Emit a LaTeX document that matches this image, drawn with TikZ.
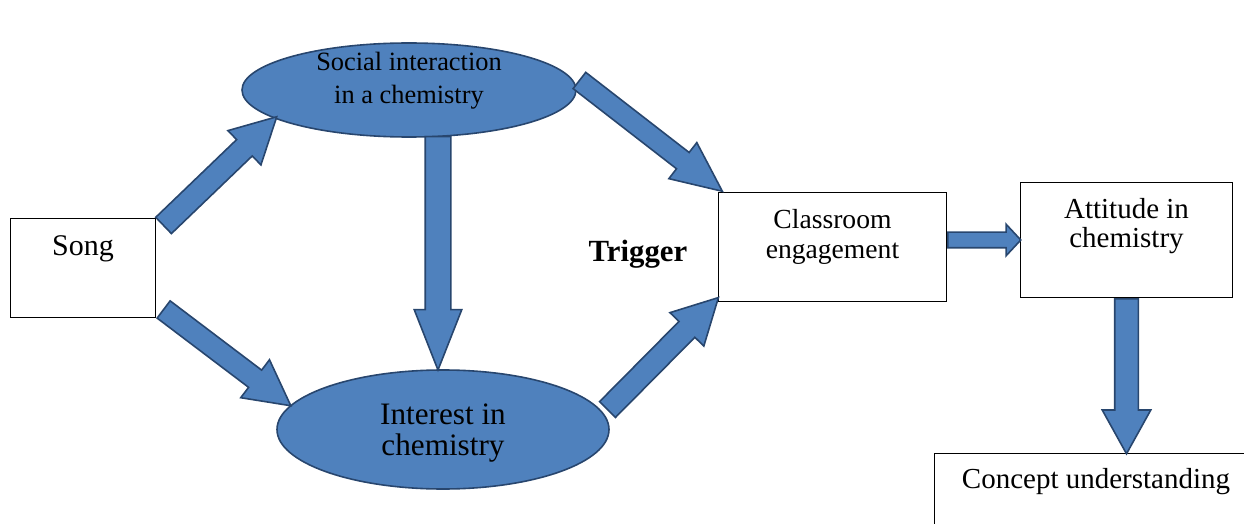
\documentclass[tikz,border=0pt]{standalone}
\usepackage{fontspec}
\setmainfont{Liberation Serif}
\usetikzlibrary{positioning,shapes.geometric,shapes.arrows,calc}

\definecolor{fillblue}{RGB}{79,129,189}
\definecolor{edgeblue}{RGB}{40,70,110}

\begin{document}
\begin{tikzpicture}[x=0.5pt,y=-0.5pt,
            box/.style={draw,rectangle,line width=.5pt,inner sep=0pt,anchor=north west,align=center},
            blob/.style={draw=edgeblue,fill=fillblue,ellipse,line width=.8pt,inner sep=0pt,align=center,text depth=0pt},
            bigarrow/.style={draw=edgeblue,fill=fillblue,line width=.8pt,single arrow,inner xsep=0pt,minimum width=0pt,anchor=tail},
            fat/.style n args={3}{to path={let \p1=(\tikztostart), \p2=(\tikztotarget), \p3=($(\p2)-(\p1)$) in
              node[bigarrow,inner ysep=#1,single arrow head extend=#2,single arrow tip angle=#3,
                   rotate={atan2(\y3,\x3)},minimum height={veclen(\x3,\y3)}] at (\p1) {}}}
          ]
          \useasboundingbox (0,0) rectangle (1244,524);
          \clip (0,0) rectangle (1244,524);

          %boxes
          \node[box,minimum width=72.5pt,text height=18.5pt,text depth=31pt,font=\fontsize{15}{18}\selectfont] (song) at (10,218) {Song};
          \node[box,minimum width=114pt,text height=33pt,text depth=21.5pt,font=\fontsize{13.8}{15.25}\selectfont] (classroom) at (718,192) {Classroom\\engagement};
          \node[box,minimum width=106pt,text height=32.5pt,text depth=25pt,font=\fontsize{14.5}{14.5}\selectfont] (attitude) at (1020,182) {Attitude in\\chemistry};
          \node[box,minimum width=161.5pt,text height=17.5pt,text depth=36pt,font=\fontsize{14.5}{17}\selectfont] (concept) at (934,453) {Concept understanding};

          %ellipses
          \node[blob,minimum width=167pt,minimum height=47pt,text height=14pt,font=\fontsize{13.2}{16.5}\selectfont] (social) at (409,90) {Social interaction\\in a chemistry};
          \node[blob,minimum width=166pt,minimum height=59.5pt,text height=25.5pt,font=\fontsize{15.6}{15.5}\selectfont] (interest) at (443,429.5) {Interest in\\chemistry};

          \node[anchor=base,font=\bfseries\fontsize{15.4}{18}\selectfont] (trigger) at (638,262) {Trigger};

          %arrows
          \path
          ($(song.north east)+(7,8)$) edge[fat={5.25pt}{6.25pt}{56}] ($(social.190)+(10,2)$)
          ($(song.south east)+(7,-9)$) edge[fat={5pt}{6.5pt}{56}] (interest.171)
          ($(social.south)+(29,-2)$) edge[fat={6pt}{5.5pt}{43}] ($(interest.north)+(-5,0)$)
          ($(social.east)+(2,-10)$) edge[fat={4.75pt}{6.25pt}{49}] ($(classroom.north west)+(4,-1)$)
          ($(interest.7)+(6,0)$) edge[fat={5.2pt}{6.3pt}{56}] ($(classroom.south west)+(0,-4)$)
          (classroom.east |- attitude.west) edge[fat={3.5pt}{4pt}{94}] (attitude.west)
          (attitude.south) edge[fat={5.5pt}{6.25pt}{58}] (attitude.south |- concept.north)
          ;

      \end{tikzpicture}
\end{document}
